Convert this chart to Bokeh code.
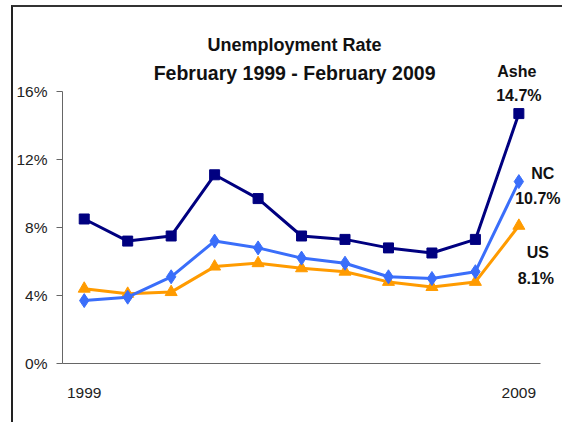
from bokeh.plotting import figure
from bokeh.models import Range1d, Label, FixedTicker, PrintfTickFormatter
from bokeh.embed import file_html
from bokeh.resources import INLINE

years = ["1999", "2000", "2001", "2002", "2003", "2004", "2005", "2006", "2007", "2008", "2009"]
ashe = [8.5, 7.2, 7.5, 11.1, 9.7, 7.5, 7.3, 6.8, 6.5, 7.3, 14.7]
nc = [3.7, 3.9, 5.1, 7.2, 6.8, 6.2, 5.9, 5.1, 5.0, 5.4, 10.7]
us = [4.4, 4.1, 4.2, 5.7, 5.9, 5.6, 5.4, 4.8, 4.5, 4.8, 8.1]
y_ticks = [0, 4, 8, 12, 16]
title_lines = ["Unemployment Rate", "February 1999 - February 2009"]

ASHE_C = "#000080"
NC_C = "#3A6EFA"
US_C = "#FF9B00"
FONT = "Liberation Sans"

n = len(years)
x = list(range(n))

# the plotting frame extends to the top and right canvas edges so the
# annotations outside the axes are not clipped; the axes are bounded.
p = figure(width=551, height=417, output_backend="svg", toolbar_location=None,
           x_range=Range1d(-0.5, 11.05), y_range=Range1d(0, 20.94),
           min_border_left=47, min_border_right=0, min_border_top=0, min_border_bottom=61,
           styles={"border-left": "2px solid #222222", "border-top": "2px solid #333333",
                   "margin-left": "11px", "margin-top": "5px"})
p.outline_line_color = None
p.xgrid.visible = False
p.ygrid.visible = False
p.background_fill_color = "white"
p.border_fill_color = "white"

# y axis
p.yaxis.ticker = FixedTicker(ticks=y_ticks, minor_ticks=[])
p.yaxis.bounds = (y_ticks[0], y_ticks[-1])
p.yaxis.formatter = PrintfTickFormatter(format="%d%%")
p.yaxis.axis_line_color = "#666666"
p.yaxis.major_tick_line_color = "#666666"
p.yaxis.major_tick_out = 6
p.yaxis.major_tick_in = 0
p.yaxis.minor_tick_line_color = None
p.yaxis.major_label_standoff = 9
p.yaxis.major_label_text_font = FONT
p.yaxis.major_label_text_font_size = "15.5px"
p.yaxis.major_label_text_color = "#222222"

# x axis
p.xaxis.ticker = FixedTicker(ticks=[0, n - 1], minor_ticks=[])
p.xaxis.bounds = (-0.5, n - 0.5)
p.xaxis.major_label_overrides = {0: years[0], n - 1: years[-1]}
p.xaxis.axis_line_color = "#666666"
p.xaxis.major_tick_line_color = None
p.xaxis.major_tick_out = 0
p.xaxis.major_tick_in = 0
p.xaxis.minor_tick_line_color = None
p.xaxis.major_label_standoff = 24
p.xaxis.major_label_text_font = FONT
p.xaxis.major_label_text_font_size = "15.5px"
p.xaxis.major_label_text_color = "#222222"

# series
p.line(x, us, line_color=US_C, line_width=3)
p.scatter(x, us, marker="triangle", size=12, fill_color=US_C, line_color=US_C)
p.line(x, nc, line_color=NC_C, line_width=3)
p.scatter(x, nc, marker="diamond", size=14, fill_color=NC_C, line_color=NC_C)
p.line(x, ashe, line_color=ASHE_C, line_width=3)
p.scatter(x, ashe, marker="square", size=10, fill_color=ASHE_C, line_color=ASHE_C)

# title lines
title_styles = [(46, "18px"), (18, "19.5px")]
for t, (dy, fs) in zip(title_lines, title_styles):
    p.add_layout(Label(x=4.84, y=y_ticks[-1], text=t, text_align="center",
                       text_baseline="alphabetic", y_offset=dy, text_font=FONT,
                       text_font_style="bold", text_font_size=fs, text_color="#111111"))

# end labels
last = n - 1
end_labels = [
    ("Ashe", ashe[-1], -2, 42, 0, 18),
    ("NC", nc[-1], 24, 8, 19, -17),
    ("US", us[-1], 19, -27, 17, -53),
]
for name, val, dx1, dy1, dx2, dy2 in end_labels:
    p.add_layout(Label(x=last, y=val, text=name, x_offset=dx1, y_offset=dy1,
                       text_align="center", text_baseline="alphabetic", text_font=FONT,
                       text_font_style="bold", text_font_size="16px", text_color="#111111"))
    p.add_layout(Label(x=last, y=val, text=f"{val}%", x_offset=dx2, y_offset=dy2,
                       text_align="center", text_baseline="alphabetic", text_font=FONT,
                       text_font_style="bold", text_font_size="16px", text_color="#111111"))

open("out.html", "w").write(file_html(p, INLINE))
